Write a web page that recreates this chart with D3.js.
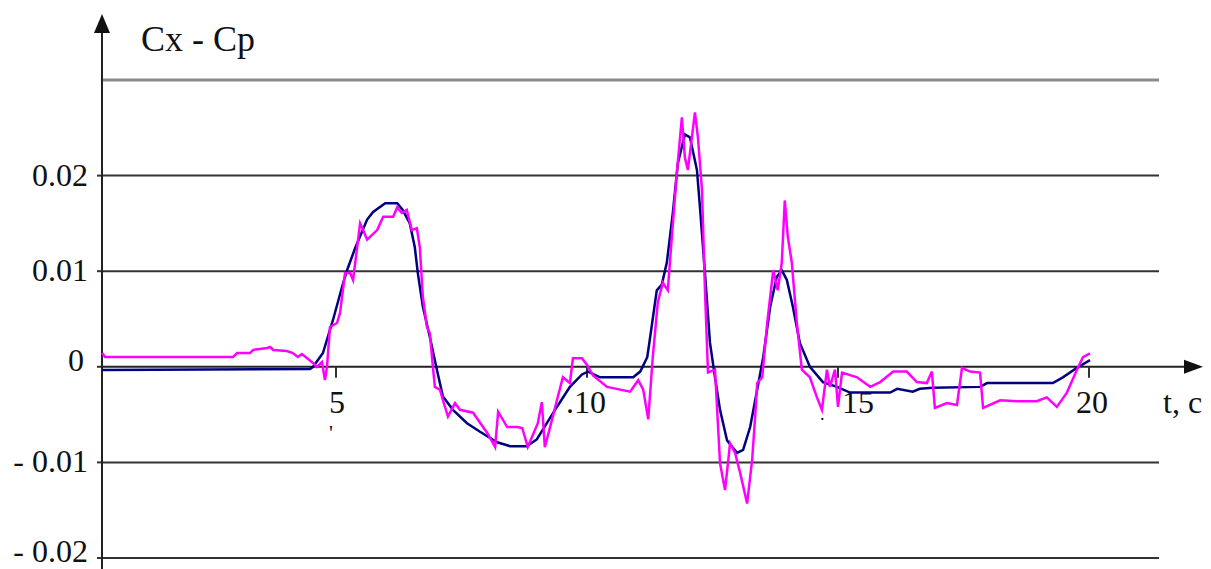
<!DOCTYPE html>
<html>
<head>
    <title>Cx - Cp</title>
    <script src="https://d3js.org/d3.v7.min.js"></script>
    <style>
        body { margin: 0; background: #fff; }
        text { font-family: "Liberation Serif", "Times New Roman", serif; fill: #111; }
    </style>
</head>
<body>
    <svg width="1211" height="569"></svg>
    <script>
        // data: t in seconds, value in units of 0.001
        const navyT = [0.34, 4.48, 4.54, 4.74, 4.94, 5.12, 5.22, 5.38, 5.62, 5.74, 5.98, 6.22, 6.33, 6.47, 6.57, 6.63, 6.73, 6.87, 7.01, 7.13,
            7.33, 7.61, 7.87, 8.21, 8.47, 8.80, 9.00, 9.20, 9.40, 9.66, 9.90, 10.02, 10.26, 10.92, 11.06, 11.20, 11.25, 11.39, 11.49, 11.59,
            11.71, 11.81, 11.95, 12.05, 12.19, 12.25, 12.35, 12.45, 12.55, 12.65, 12.79, 12.99, 13.11, 13.25, 13.39, 13.51, 13.65, 13.78, 13.88, 13.98,
            14.10, 14.24, 14.44, 14.70, 14.98, 15.24, 16.04, 16.18, 16.49, 16.63, 16.89, 17.83, 17.97, 19.28, 19.48, 19.76, 20.02];
        const navyV = [-0.33, -0.23, -0.02, 1.44, 4.9, 8.35, 10.1, 12.4, 15.4, 16.2, 17.1, 17.1, 16.4, 15.0, 12.5, 9.8, 6.3, 3.1, -0.3, -3.1,
            -4.5, -5.9, -6.8, -7.9, -8.3, -8.3, -7.6, -5.9, -4.2, -2.1, -0.8, -0.5, -1.1, -1.1, -0.5, 1.0, 2.8, 8.0, 8.6, 10.9,
            16.1, 21.3, 24.3, 24.0, 20.6, 16.7, 9.8, 2.5, -1.1, -4.5, -7.7, -9.0, -8.7, -6.3, -2.4, 1.0, 6.3, 9.4, 10.1, 9.1,
            6.3, 2.5, 0, -1.6, -2.1, -2.7, -2.7, -2.3, -2.6, -2.3, -2.2, -2.1, -1.7, -1.7, -1.1, -0.1, 0.7];

        const magT = [0.34, 0.40, 2.95, 3.03, 3.29, 3.35, 3.63, 3.69, 3.75, 4.02, 4.14, 4.24, 4.32, 4.42, 4.54, 4.62, 4.72, 4.78, 4.82, 4.88,
            5.02, 5.08, 5.18, 5.28, 5.34, 5.48, 5.54, 5.62, 5.82, 5.94, 6.14, 6.22, 6.31, 6.41, 6.51, 6.61, 6.67, 6.73, 6.81, 6.87,
            6.93, 6.97, 7.07, 7.13, 7.23, 7.37, 7.47, 7.73, 8.01, 8.17, 8.23, 8.41, 8.61, 8.71, 8.82, 9.02, 9.10, 9.16, 9.30, 9.40,
            9.52, 9.66, 9.72, 9.90, 10.0, 10.12, 10.40, 10.86, 11.02, 11.12, 11.22, 11.31, 11.41, 11.51, 11.61, 11.69, 11.79, 11.89, 11.95, 12.01,
            12.15, 12.21, 12.29, 12.35, 12.41, 12.55, 12.65, 12.75, 12.85, 12.95, 13.05, 13.19, 13.29, 13.35, 13.39, 13.49, 13.59, 13.71, 13.80, 13.88,
            13.94, 14.00, 14.08, 14.18, 14.28, 14.44, 14.58, 14.68, 14.78, 14.84, 14.94, 15.0, 15.08, 15.38, 15.64, 15.84, 16.10, 16.37, 16.57, 16.77,
            16.87, 16.93, 17.17, 17.37, 17.47, 17.63, 17.83, 17.89, 18.23, 18.57, 18.96, 19.16, 19.36, 19.56, 19.76, 19.88, 20.02];
        const magV = [1.44, 1.03, 1.03, 1.44, 1.44, 1.76, 1.97, 2.07, 1.76, 1.65, 1.44, 1.03, 1.34, 0.92, 0.4, -0.02, 0.5, -1.38, -0.02, 4.16,
            4.58, 5.63, 9.81, 9.81, 9.08, 15.0, 14.3, 13.3, 14.3, 15.7, 15.7, 16.7, 16.1, 16.4, 14.3, 14.5, 12.5, 7.3, 4.2, 3.5,
            0, -2.1, -2.4, -3.5, -5.2, -3.8, -4.5, -4.8, -6.9, -8.4, -4.7, -6.3, -6.3, -6.4, -8.4, -5.9, -3.7, -8.4, -5.6, -3.5,
            -1.1, -1.7, 0.9, 0.9, 0.2, -0.9, -2.1, -2.6, -1.4, -2.4, -5.5, 1.0, 6.7, 8.8, 8.0, 13.6, 20.3, 26.1, 21.9, 20.6,
            26.6, 24.0, 18.5, 8.0, -0.6, -0.3, -10.1, -12.9, -8.0, -9.0, -11.1, -14.3, -9.7, -5.2, -1.7, -1.1, 4.6, 10.1, 8.0, 10.9,
            17.4, 13.6, 10.9, 4.6, -0.3, -1.1, -3.2, -4.5, -0.3, -2.1, -0.3, -4.2, -0.6, -1.1, -2.1, -1.6, -0.5, -0.5, -1.6, -1.7,
            -0.5, -4.3, -3.8, -4.0, -0.1, -0.5, -0.6, -4.3, -3.5, -3.6, -3.6, -3.2, -4.2, -2.7, -0.3, 1.0, 1.4];

        const yTicks = [0.03, 0.02, 0.01, 0, -0.01, -0.02];
        const yLabels = {"0.02": "0.02", "0.01": "0.01", "0": "0", "-0.01": "- 0.01", "-0.02": "- 0.02"};
        const xTicks = [5, 10, 15, 20];
        const xLabels = ["5", ".10", "15", "20"];

        const svg = d3.select("svg");

        const x = d3.scaleLinear().domain([5, 20]).range([336, 1089]);
        const y = d3.scaleLinear().domain([-0.02, 0.03]).range([558, 80]);
        const x0 = 102, gridEnd = 1159;

        // gridlines
        svg.append("g").selectAll("line")
            .data(yTicks.filter(d => d !== 0))
            .enter().append("line")
            .attr("x1", x0).attr("x2", gridEnd)
            .attr("y1", d => y(d)).attr("y2", d => y(d))
            .attr("stroke", d => d === 0.03 ? "#8a8a8a" : "#333")
            .attr("stroke-width", d => d === 0.03 ? 3 : 2);

        // y ticks + labels
        svg.append("g").selectAll("line")
            .data(yTicks.filter(d => d !== 0.03))
            .enter().append("line")
            .attr("x1", x0 - 5).attr("x2", x0)
            .attr("y1", d => y(d)).attr("y2", d => y(d))
            .attr("stroke", "#333").attr("stroke-width", 2);
        svg.append("g").selectAll("text")
            .data(yTicks.filter(d => d !== 0.03))
            .enter().append("text")
            .attr("x", d => d === 0 ? 84 : 88)
            .attr("y", d => d === -0.02 ? 562 : y(d) + (d === 0 ? 4 : 10))
            .attr("text-anchor", "end")
            .style("font-size", "32px")
            .text(d => yLabels[String(d)]);

        // x axis with arrow
        svg.append("line")
            .attr("x1", x0).attr("x2", 1188)
            .attr("y1", y(0)).attr("y2", y(0))
            .attr("stroke", "#222").attr("stroke-width", 2);
        svg.append("path")
            .attr("d", `M1203,${y(0)} L1184,${y(0) - 7} L1184,${y(0) + 7} Z`)
            .attr("fill", "#111");
        svg.append("g").selectAll("line")
            .data(xTicks)
            .enter().append("line")
            .attr("x1", d => x(d)).attr("x2", d => x(d))
            .attr("y1", y(0)).attr("y2", y(0) + 11)
            .attr("stroke", "#333").attr("stroke-width", 2);
        svg.append("g").selectAll("text")
            .data(xTicks)
            .enter().append("text")
            .attr("x", (d, i) => x(d) + [1, -1, 20, 3][i])
            .attr("y", 413)
            .attr("text-anchor", "middle")
            .style("font-size", "32px")
            .text((d, i) => xLabels[i]);
        // stray marks in the scan
        svg.append("text").attr("x", 329).attr("y", 440).style("font-size", "22px").text("'");
        svg.append("text").attr("x", 820).attr("y", 420).style("font-size", "18px").text(".");
        svg.append("text").attr("x", 1163).attr("y", 413).style("font-size", "32px").text("t, c");

        // y axis with arrow
        svg.append("line")
            .attr("x1", x0).attr("x2", x0)
            .attr("y1", 569).attr("y2", 30)
            .attr("stroke", "#222").attr("stroke-width", 2);
        svg.append("path")
            .attr("d", `M${x0},14 L${x0 - 8},33 L${x0 + 8},33 Z`)
            .attr("fill", "#111");
        svg.append("text").attr("x", 141).attr("y", 51).style("font-size", "36px").text("Cx - Cp");

        const line = d3.line().x(d => x(d[0])).y(d => y(d[1] / 1000));

        svg.append("path")
            .datum(navyT.map((t, i) => [t, navyV[i]]))
            .attr("d", line)
            .attr("fill", "none")
            .attr("stroke", "#000080")
            .attr("stroke-width", 2.5);

        svg.append("path")
            .datum(magT.map((t, i) => [t, magV[i]]))
            .attr("d", line)
            .attr("fill", "none")
            .attr("stroke", "#ff00ff")
            .attr("stroke-width", 2.5);
    </script>
</body>
</html>
